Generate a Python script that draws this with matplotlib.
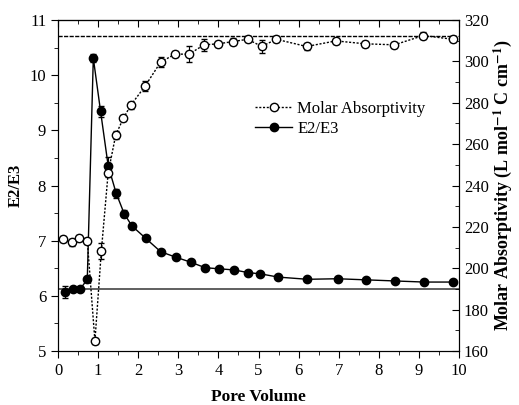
import numpy as np
from matplotlib import pyplot as plt
from matplotlib.lines import Line2D
from matplotlib.ticker import MultipleLocator

# E2/E3 (left axis)
pv_e = [0.17, 0.37, 0.55, 0.73, 0.88, 1.06, 1.25, 1.45, 1.65, 1.84, 2.19, 2.56, 2.94,
        3.31, 3.67, 4.02, 4.39, 4.75, 5.04, 5.49, 6.22, 6.97, 7.68, 8.40, 9.13, 9.84]
e2e3 = [6.07, 6.13, 6.12, 6.30, 10.31, 9.35, 8.36, 7.86, 7.49, 7.27, 7.04, 6.80, 6.70,
        6.61, 6.51, 6.49, 6.47, 6.42, 6.40, 6.34, 6.30, 6.31, 6.29, 6.27, 6.25, 6.25]
e2e3_err = [0.10, 0.03, 0.03, 0.04, 0.08, 0.10, 0.15, 0.08, 0.06, 0.03, 0.03, 0.03, 0.03,
            0.03, 0.03, 0.03, 0.03, 0.03, 0.03, 0.03, 0.03, 0.03, 0.03, 0.03, 0.03, 0.03]

# Molar absorptivity (right axis)
pv_m = [0.13, 0.34, 0.53, 0.73, 0.92, 1.08, 1.25, 1.44, 1.63, 1.81, 2.17, 2.56, 2.92,
        3.27, 3.64, 4.00, 4.37, 4.73, 5.08, 5.44, 6.20, 6.93, 7.66, 8.39, 9.11, 9.84]
molar = [214.0, 212.5, 214.7, 213.3, 164.8, 208.3, 246.1, 264.5, 272.5, 278.7, 288.0,
         299.7, 303.5, 303.5, 308.0, 308.5, 309.6, 310.7, 307.2, 310.7, 307.2, 309.9,
         308.5, 308.0, 312.5, 310.7]
molar_err = [1.5, 1.5, 1.5, 1.5, 1.5, 4.0, 2.0, 2.0, 1.5, 1.5, 2.5, 2.5, 1.5,
             4.0, 3.0, 1.5, 1.5, 1.5, 3.0, 1.5, 1.5, 1.5, 1.5, 1.5, 1.5, 1.5]

e2e3_ref = 6.12
molar_ref = 312.4

plt.rcParams['font.family'] = ['Liberation Serif', 'DejaVu Serif']
plt.rcParams['mathtext.fontset'] = 'stix'

fig = plt.figure(figsize=(5.19, 4.05), dpi=100)
ax = fig.add_axes([0.1118, 0.1333, 0.7726, 0.8173])
ax2 = ax.twinx()

ax.axhline(e2e3_ref, color='#444444', lw=1.2)
ax2.axhline(molar_ref, color='black', lw=1.0, ls=(0, (3, 1)))

ax2.errorbar(pv_m, molar, yerr=molar_err, fmt='o', ls=(0, (1.5, 1.2)), color='black',
             mfc='white', mec='black', ms=6, lw=1.0, capsize=2.5, elinewidth=0.8)
ax.errorbar(pv_e, e2e3, yerr=e2e3_err, fmt='o-', color='black', ms=6, lw=1.0,
            capsize=2.5, elinewidth=0.8)

ax.set_xlim(0, 10)
ax.set_ylim(5, 11)
ax2.set_ylim(160, 320)
ax.xaxis.set_major_locator(MultipleLocator(1))
ax.xaxis.set_minor_locator(MultipleLocator(0.5))
ax.yaxis.set_major_locator(MultipleLocator(1))
ax.yaxis.set_minor_locator(MultipleLocator(0.5))
ax2.yaxis.set_major_locator(MultipleLocator(20))
ax2.yaxis.set_minor_locator(MultipleLocator(10))

ax.tick_params(axis='x', which='both', direction='out', labelsize=12)
ax.tick_params(axis='y', which='both', direction='out', labelsize=12)
ax.tick_params(which='major', length=5)
ax.tick_params(which='minor', length=3)
ax2.tick_params(axis='y', which='both', direction='in', labelsize=12)
ax2.tick_params(which='major', length=5)
ax2.tick_params(which='minor', length=3)

# top ticks point inward
top = ax.secondary_xaxis('top')
top.xaxis.set_major_locator(MultipleLocator(1))
top.xaxis.set_minor_locator(MultipleLocator(0.5))
top.tick_params(which='both', direction='in', labeltop=False)
top.tick_params(which='major', length=5)
top.tick_params(which='minor', length=3)

ax.set_xlabel('Pore Volume', fontweight='bold', fontsize=12.5, labelpad=7)
ax.set_ylabel('E2/E3', fontweight='bold', fontsize=12)
ax2.set_ylabel(r'Molar Absorptivity (L mol$^{\mathbf{-1}}$ C cm$^{\mathbf{-1}}$)',
               fontweight='bold', fontsize=13, labelpad=1.5)

h_m = Line2D([], [], color='black', ls=(0, (1.5, 1.2)), lw=1.0, marker='o',
             mfc='white', mec='black', ms=6)
h_e = Line2D([], [], color='black', ls='-', lw=1.0, marker='o', ms=6)
ax.legend([h_m, h_e], ['Molar Absorptivity', 'E2/E3'], loc='upper left',
          bbox_to_anchor=(0.455, 0.80), frameon=False, fontsize=12,
          handlelength=2.2, handletextpad=0.3, labelspacing=0.2)

fig.savefig('out.png', dpi=100)
